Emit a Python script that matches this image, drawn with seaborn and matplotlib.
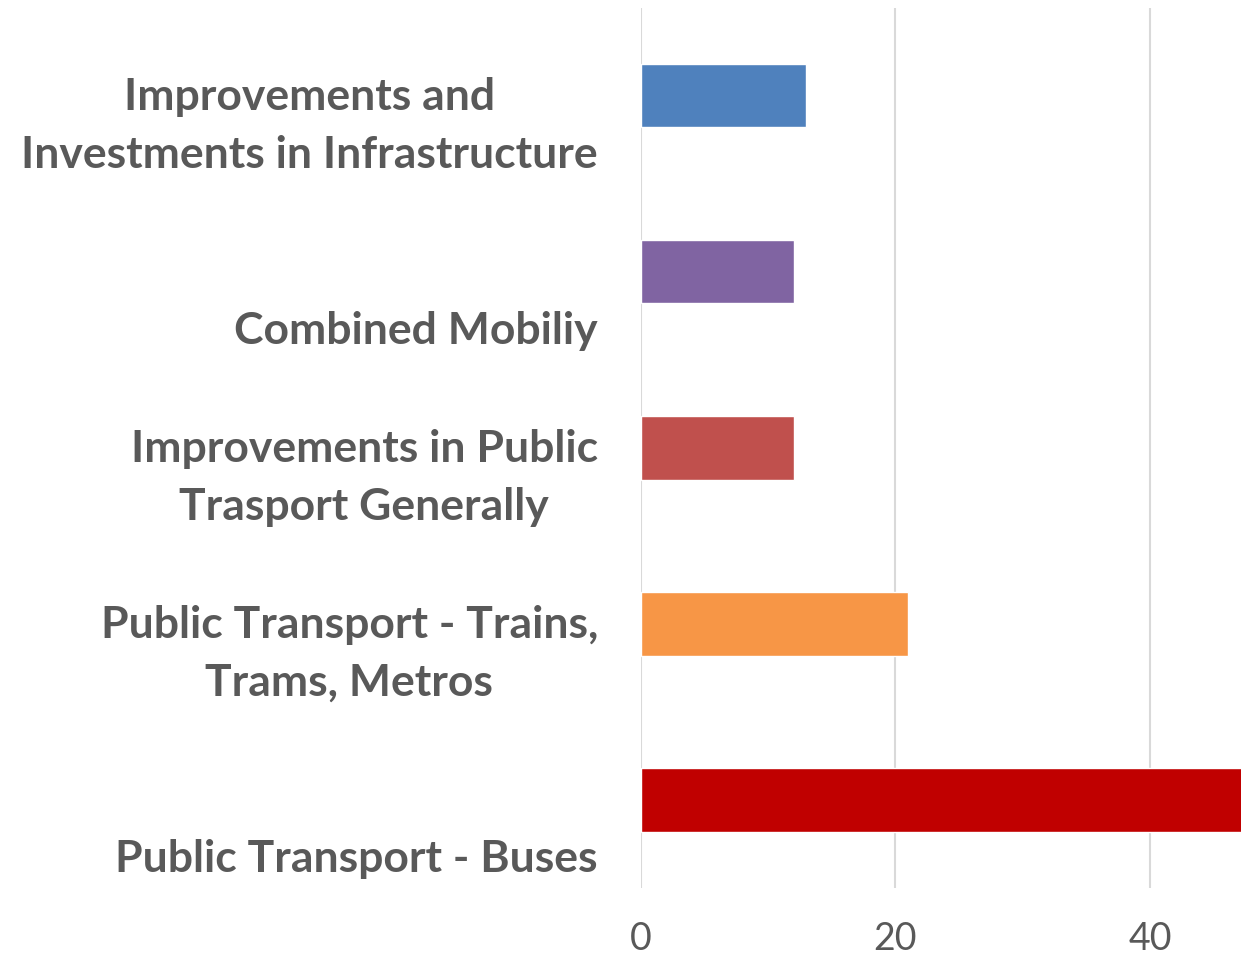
import matplotlib
matplotlib.use("Agg")
import matplotlib.pyplot as plt
import matplotlib.transforms as mtransforms
import seaborn as sns
import pandas as pd

# --- data ---
categories = [
    "Improvements and\nInvestments in Infrastructure",
    "Combined Mobiliy",
    "Improvements in Public\nTrasport Generally",
    "Public Transport - Trains,\nTrams, Metros",
    "Public Transport - Buses",
]
values = [13, 12, 12, 21, 48]
bar_colors = ["#4F81BD", "#8064A2", "#C0504D", "#F79646", "#C00000"]
x_ticks = [0, 20, 40]

df = pd.DataFrame({"category": categories, "value": values})

sns.set_style("white")
plt.rcParams["font.family"] = ["Lato", "DejaVu Sans"]

fig = plt.figure(figsize=(12.41, 9.6), dpi=100)
ax = fig.add_axes([0.5165, 0.075, 0.4835, 0.917])

sns.barplot(data=df, x="value", y="category", hue="category",
            palette=bar_colors, legend=False, width=0.36, ax=ax,
            saturation=1, zorder=3)

ax.set_xlim(0, 47.15)
ax.set_xticks(x_ticks)
ax.xaxis.grid(True, color="#D9D9D9", linewidth=1.5, zorder=0)
ax.set_axisbelow(True)
for s in ax.spines.values():
    s.set_visible(False)
ax.set_xlabel("")
ax.set_ylabel("")

ax.tick_params(axis="x", length=0, pad=24, labelsize=27, labelcolor="#595959")
ax.tick_params(axis="y", length=0, pad=31)

# category labels sit below the bar, bottom-aligned, centred multiline
offset = mtransforms.ScaledTranslation(0, -0.72, fig.dpi_scale_trans)
for lab in ax.get_yticklabels():
    lab.set_fontsize(32)
    lab.set_fontweight("bold")
    lab.set_color("#595959")
    lab.set_va("baseline")
    lab.set_multialignment("center")
    lab.set_linespacing(1.55)
    lab.set_transform(lab.get_transform() + offset)

fig.savefig("out.png", dpi=100, facecolor="white")
